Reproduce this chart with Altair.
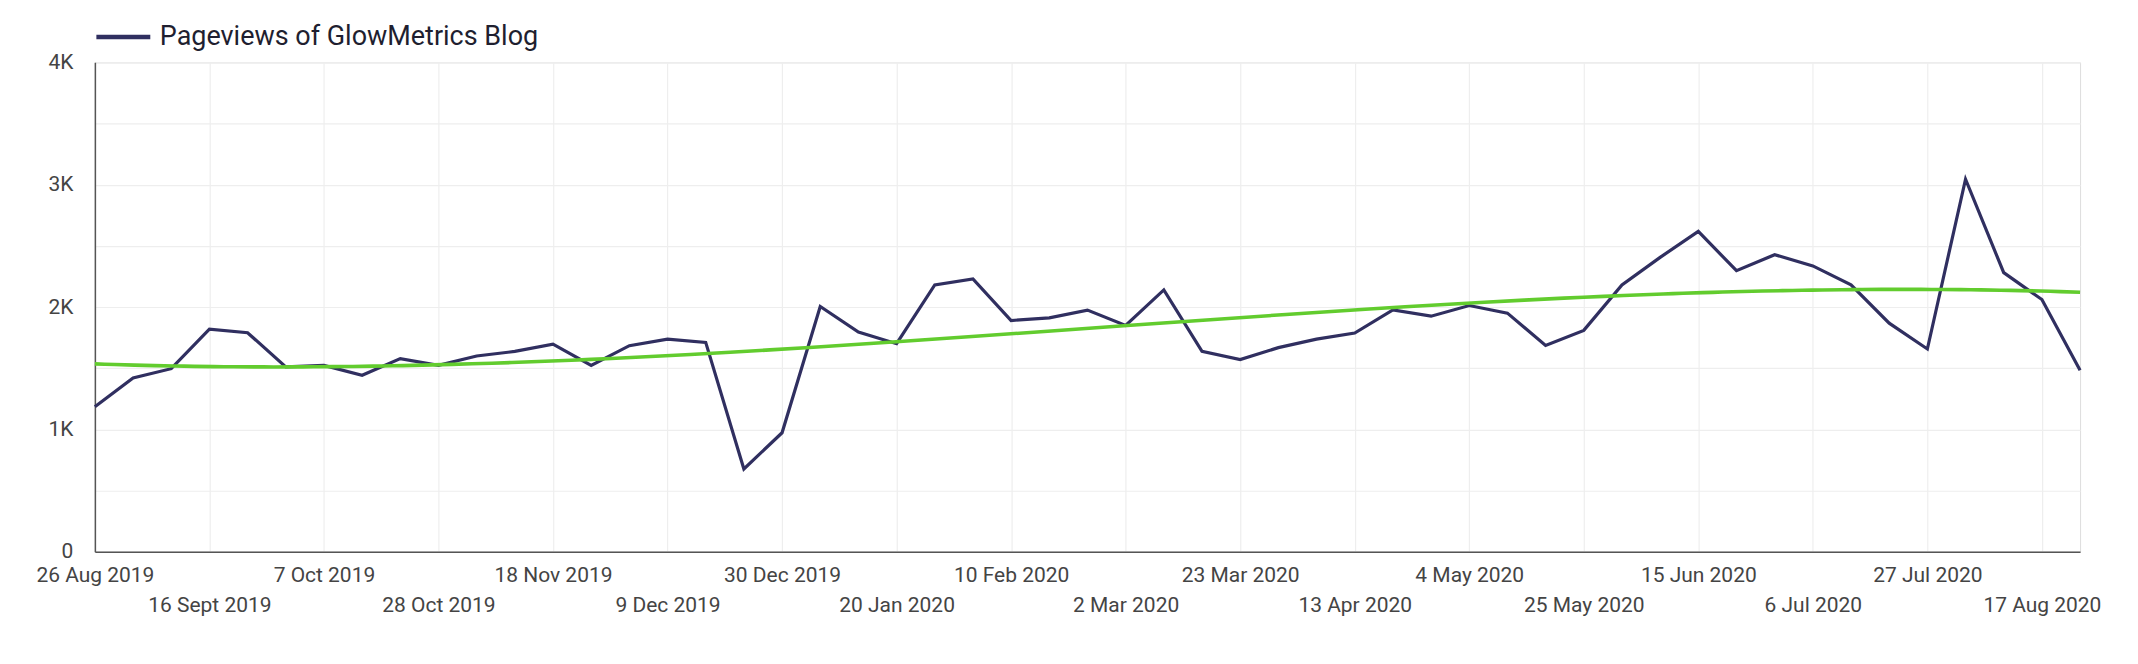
import json
import altair as alt
import pandas as pd

# ---- data ----
week_starts = pd.date_range("2019-08-26", periods=53, freq="7D").strftime("%Y-%m-%dT00:00:00").tolist()
pageviews = [
    1184, 1420, 1496, 1819, 1790, 1510, 1523, 1442, 1578, 1523,
    1600, 1637, 1697, 1523, 1684, 1738, 1711, 676, 972, 2004,
    1795, 1700, 2181, 2230, 1890, 1912, 1975, 1849, 2140, 1637,
    1570, 1668, 1738, 1787, 1977, 1925, 2012, 1950, 1686, 1809,
    2181, 2406, 2618, 2297, 2428, 2336, 2181, 1868, 1657, 3045,
    2281, 2061, 1483,
]
series_name = "Pageviews of GlowMetrics Blog"

tick_dates = pd.date_range("2019-08-26", periods=18, freq="21D")
tick_labels = [
    "26 Aug 2019", "16 Sept 2019", "7 Oct 2019", "28 Oct 2019", "18 Nov 2019",
    "9 Dec 2019", "30 Dec 2019", "20 Jan 2020", "10 Feb 2020", "2 Mar 2020",
    "23 Mar 2020", "13 Apr 2020", "4 May 2020", "25 May 2020", "15 Jun 2020",
    "6 Jul 2020", "27 Jul 2020", "17 Aug 2020",
]
y_ticks = [0, 500, 1000, 1500, 2000, 2500, 3000, 3500, 4000]

df = pd.DataFrame({"date": week_starts, "views": pageviews})

NAVY = "#302f60"
GREEN = "#62cc2e"
FONT = "Roboto"

tick_values = [alt.DateTime(year=d.year, month=d.month, date=d.day) for d in tick_dates]
rows = [[lab, ""] if i % 2 == 0 else ["", lab] for i, lab in enumerate(tick_labels)]
x_label_expr = f"{json.dumps(rows)}[round(datum.index*{len(tick_labels) - 1})]"

x_axis = alt.Axis(
    values=tick_values,
    labelExpr=x_label_expr,
    title=None,
    grid=True,
    gridColor="#eeeeee",
    gridWidth=1.2,
    ticks=False,
    tickSize=0,
    domainColor="#555555",
    domainWidth=1.5,
    labelFont=FONT,
    labelFontSize=21,
    labelColor="#444444",
    labelPadding=24,
    labelBaseline="middle",
    labelLineHeight=30,
    labelAlign="center",
    labelOverlap=False,
    labelBound=False,
    labelFlush=False,
)

y_axis = alt.Axis(
    values=y_ticks,
    labelExpr="datum.value == 0 ? '0' : (datum.value % 1000 == 0 ? (datum.value / 1000) + 'K' : '')",
    title=None,
    grid=True,
    gridColor="#eeeeee",
    gridWidth=1.2,
    ticks=False,
    tickSize=0,
    domainColor="#555555",
    domainWidth=1.5,
    labelFont=FONT,
    labelFontSize=21,
    labelColor="#444444",
    labelPadding=22,
)

x_scale = alt.Scale(nice=False)
y_scale = alt.Scale(domain=[0, 4000], nice=False)

base = alt.Chart(df)

line = base.transform_calculate(series=f"'{series_name}'").mark_line(
    strokeWidth=3.2, strokeJoin="miter"
).encode(
    x=alt.X("date:T", axis=x_axis, scale=x_scale),
    y=alt.Y("views:Q", axis=y_axis, scale=y_scale),
    color=alt.Color(
        "series:N",
        scale=alt.Scale(domain=[series_name], range=[NAVY]),
        legend=alt.Legend(
            title=None,
            orient="none",
            legendX=-1,
            legendY=-55,
            symbolType="stroke",
            symbolSize=2916,
            symbolStrokeWidth=4.5,
            labelFont=FONT,
            labelFontSize=27,
            labelColor="#1f1f30",
            labelOffset=7,
            labelLimit=0,
            padding=0,
        ),
    ),
)

trend = base.transform_calculate(
    wk="toNumber(toDate(datum.date)) / 604800000"
).transform_regression(
    "wk", "views", method="poly", order=3
).transform_calculate(
    t="datum.wk * 604800000"
).mark_line(color=GREEN, strokeWidth=3.6).encode(
    x=alt.X("t:T"),
    y=alt.Y("views:Q"),
)

chart = alt.layer(line, trend).properties(
    width=1988,
    height=490,
    autosize=alt.AutoSizeParams(type="none"),
    padding={"left": 87, "top": 54, "right": 50, "bottom": 90},
).configure_view(stroke=None).configure(background="white")

chart.save("out.html", embed_options={"renderer": "svg", "actions": False})
